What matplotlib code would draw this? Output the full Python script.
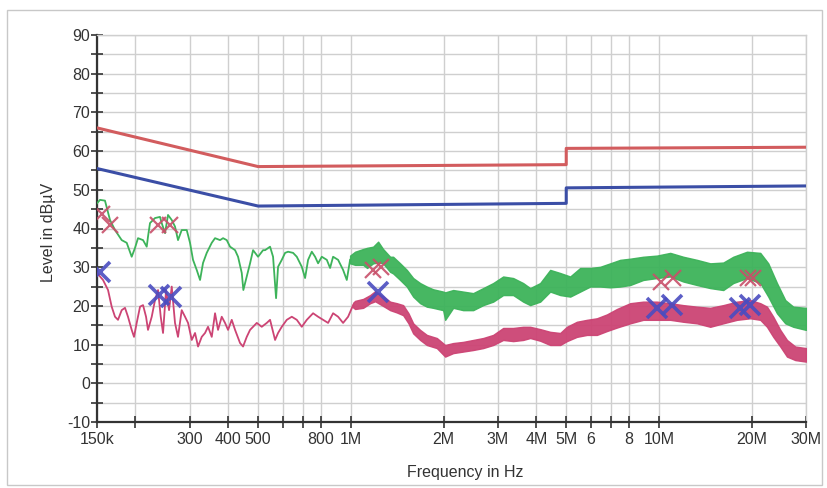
import numpy as np
import matplotlib
matplotlib.use("Agg")
import matplotlib.pyplot as plt
from matplotlib.patches import Rectangle

plt.rcParams['font.family'] = ['Liberation Sans', 'DejaVu Sans']
plt.rcParams['axes.unicode_minus'] = False

# ---- limit lines (kHz, dBuV)
qp_limit_f = [150, 500, 5000, 5000, 30000]
qp_limit_db = [66, 56, 56.5, 60.7, 61]
av_limit_f = [150, 500, 5000, 5000, 30000]
av_limit_db = [55.5, 45.8, 46.5, 50.5, 51]

# ---- peak trace (green), low-frequency part (kHz, dBuV)
pk_f = [150, 153.4, 159.2, 165.3, 171.6, 180.4, 187.3, 194.4, 199.3, 203.8, 211.6, 217.5,
        219.6, 222.9, 231.4, 240.2, 243.3, 249.4, 255, 262.2, 268.7, 274.8, 282.5, 293.3,
        300.6, 307.4, 316, 324, 331.3, 340.6, 353.6, 362.4, 376.2, 384.8, 395.5, 405.4,
        420.9, 430.4, 442.5, 447.8, 459.3, 470.8, 481.5, 499.8, 518.9, 526.7, 546.7, 559.1,
        571.8, 580.4, 596.7, 611.7, 625.5, 649.4, 667.6, 693, 710.3, 726.4, 746.8, 765.4,
        782.8, 804.7, 835.4, 856.2, 875.6, 909, 943.6, 970, 994.3]
pk_db = [46.5, 47.4, 47.2, 42.2, 39.6, 37, 36.3, 32.7, 35, 37.5, 37, 35.3,
         37.9, 41.4, 42.7, 43, 41.4, 38.8, 43.5, 42.2, 40.5, 37, 39.6, 39.6,
         36.3, 31.9, 29.3, 26.7, 31.1, 33.7, 36.3, 37.5, 37, 37.5, 37, 35.3,
         34.4, 32.7, 28.5, 24.1, 27.6, 31, 34.4, 32.7, 34.4, 34.4, 35.3, 32.7,
         22, 30.1, 31.9, 33.7, 34, 33.7, 32.7, 30.1, 27.2, 31.9, 34, 32.7,
         31, 32.7, 31.9, 29.8, 32.7, 31.9, 29.3, 26.7, 31.9]

# ---- peak trace (green), dense part: envelope (kHz, dBuV)
pk_band_f = [994.3, 1032, 1096, 1129, 1181, 1226, 1272, 1341, 1371, 1445, 1519, 1593, 1678,
             1764, 1849, 1993, 2023, 2148, 2314, 2494, 2688, 2896, 3121, 3363, 3624, 3819,
             4115, 4435, 4779, 5150, 5550, 5980, 6444, 6945, 7484, 8066, 8889, 9848, 10878,
             11990, 13280, 14666, 16164, 17420, 19298, 21314, 22628, 24147, 25694, 27279, 30000]
pk_band_hi = [33.0, 34.0, 34.7, 35, 35.3, 36.6, 34.7, 32.7, 32.7, 31, 29.3, 27.2, 25.9,
              25, 24.3, 23.7, 23.5, 24.1, 23.7, 23.3, 24.6, 25.9, 27.6, 27.2, 25.9, 24.6,
              25.9, 29.3, 28.5, 27.6, 29.8, 29.8, 30.1, 31, 31.9, 32.2, 32.7, 33, 33.7,
              32.7, 31.9, 31, 31.2, 32.7, 34, 33.7, 31, 25.9, 21.5, 19.8, 19.5]
pk_band_lo = [31.0, 30.6, 30.6, 29.8, 31, 31.2, 31, 28.8, 28.4, 26.7, 25, 22.4, 20.7,
              19.8, 19.5, 18.9, 16.4, 19.5, 18.9, 18.9, 20.2, 21.1, 22.8, 22.8, 21.1, 20.2,
              21.1, 23.7, 22.8, 22.4, 23.7, 25, 25, 24.8, 25, 25.4, 26.7, 27.2, 27.6,
              26.3, 25.4, 24.6, 24.1, 25.9, 27.2, 25.9, 22.4, 18.1, 15.5, 14.6, 13.8]

# ---- average trace (crimson), low-frequency part (kHz, dBuV)
av_f = [150, 156.9, 162.9, 167.4, 171.6, 175.5, 180.4, 184.9, 189.1, 194.4, 197.8, 201.8,
        206.9, 211.6, 216.4, 219.6, 225.8, 231.4, 236.7, 241.5, 245.7, 251.3, 257, 262.2,
        268.7, 274.8, 282.5, 289.6, 296.2, 304.5, 312.1, 319.2, 328.1, 336.3, 343.9, 353.6,
        362.4, 370.6, 381, 390.5, 399.4, 410.6, 420.9, 436.9, 446.8, 459.3, 470.8, 481.5,
        495, 513.8, 533.4, 546.7, 567.6, 580.4, 596.7, 619.5, 643.1, 667.6, 693, 719.4,
        754, 782.8, 812.6, 843.5, 875.6, 909, 943.6, 979.6, 1017]
av_db = [28.5, 26.7, 24.1, 19.8, 17.2, 16.4, 18.9, 19.5, 17.2, 13.8, 12, 15.6,
         19.8, 20.2, 17.2, 13.8, 17.2, 21.5, 24.1, 17.2, 13, 24.1, 18.9, 25,
         15.6, 12, 18.9, 17.2, 15.6, 11.2, 13, 9.5, 12, 13, 14.6, 12,
         18.1, 13.8, 17.2, 15.6, 13.8, 16.4, 13.8, 10.4, 9.5, 12, 13.8, 14.6,
         15.6, 14.6, 15.6, 16.4, 11.2, 13, 14.6, 16.4, 17.2, 16.4, 14.6, 16.4,
         18.1, 17.2, 16.4, 15.6, 18.1, 17.2, 15.6, 17.2, 20.2]

# ---- average trace (crimson), dense part: envelope (kHz, dBuV)
av_band_f = [1017, 1032, 1096, 1155, 1199, 1272, 1341, 1410, 1478, 1538, 1593, 1678, 1764,
             1901, 2023, 2148, 2314, 2494, 2688, 2896, 3121, 3363, 3624, 3819, 4115, 4435,
             4779, 5025, 5414, 5836, 6287, 6776, 7301, 8066, 8889, 9848, 10878, 11990, 13280,
             14666, 16164, 17907, 19782, 21314, 22409, 23489, 24753, 26025, 27690, 30000]
av_band_hi = [20.8, 21.3, 21.8, 22.8, 23.8, 22.5, 21.1, 20.7, 20.2, 18.1, 15.5, 13.8, 12.5,
              11.7, 9.9, 10.4, 10.7, 11.2, 11.7, 12.5, 14.3, 14.3, 14.6, 14.6, 14, 13.3,
              13, 14.6, 15.9, 16.4, 16.8, 17.8, 19.2, 20.7, 21.1, 21.1, 20.7, 20.2, 19.8,
              19.5, 20.2, 21.1, 21.5, 20.7, 19.8, 17.2, 13.8, 11.2, 9.5, 9.1]
av_band_lo = [19.6, 19.2, 19.5, 20.7, 21.2, 20, 18.9, 18.3, 17.6, 15.5, 12.9, 11.2, 9.9,
              9.1, 6.9, 7.8, 8.2, 8.6, 9.1, 9.9, 11.2, 10.9, 11.2, 11.7, 11, 9.9,
              9.9, 10.9, 12, 12.5, 12.5, 13.5, 14.4, 15.5, 16.4, 16.4, 16.4, 15.9, 15.5,
              14.6, 15.5, 16.4, 16.8, 16.4, 14.6, 12, 9.5, 6.9, 6, 5.6]

# ---- final measurement markers (kHz, dBuV)
qp_mark_f = [155.7, 165.3, 236.7, 258.9, 1181, 1254, 10169, 11124, 19490, 20230]
qp_mark_db = [43.8, 40.8, 40.8, 41, 29.3, 30, 26.3, 27.1, 27.1, 27.3]
av_mark_f = [153, 238.5, 260.8, 1226, 9870, 11017, 18360, 19780]
av_mark_db = [28.8, 22.8, 22.4, 23.5, 19.4, 20.2, 19.4, 20.2]

# ---- axis ticks
xtick_khz = [150, 200, 300, 400, 500, 600, 700, 800, 1000, 2000, 3000, 4000, 5000,
             6000, 7000, 8000, 10000, 20000, 30000]
xtick_labels = ["150k", "", "300", "400", "500", "", "", "800", "1M", "2M", "3M", "4M",
                "5M", "6", "", "8", "10M", "20M", "30M"]
ytick_major = [-10, 0, 10, 20, 30, 40, 50, 60, 70, 80, 90]

k = 1e3
fig = plt.figure(figsize=(8.27, 4.88), dpi=100)
ax = fig.add_axes([97 / 827, 1 - 422 / 488, (806 - 97) / 827, (422 - 35) / 488])

red_lim = '#d25c5e'
blue_lim = '#3b4ea6'
green = '#3db35a'
crimson = '#cc4474'

ax.plot(np.array(qp_limit_f) * k, qp_limit_db, color=red_lim, lw=2.2, zorder=3)
ax.plot(np.array(av_limit_f) * k, av_limit_db, color=blue_lim, lw=2.2, zorder=3)

ax.plot(np.array(pk_f) * k, pk_db, color=green, lw=1.3, zorder=4)
ax.fill_between(np.array(pk_band_f) * k, pk_band_lo, pk_band_hi, facecolor=green,
                alpha=0.95, lw=1.0, edgecolor=green, zorder=4)
ax.plot(np.array(av_f) * k, av_db, color=crimson, lw=1.3, zorder=5)
ax.fill_between(np.array(av_band_f) * k, av_band_lo, av_band_hi, facecolor=crimson,
                alpha=0.95, lw=1.0, edgecolor=crimson, zorder=5)

ax.plot(np.array(qp_mark_f) * k, qp_mark_db, ls='none', marker='x', ms=12, mew=1.6,
        color='#c8506a', alpha=0.9, zorder=6)
ax.plot(np.array(av_mark_f) * k, av_mark_db, ls='none', marker='x', ms=14, mew=2.6,
        color='#4a4cc0', alpha=0.9, zorder=7)

ax.set_xscale('log')
ax.set_xlim(150 * k, 30000 * k)
ax.set_ylim(-10, 90)
ax.set_xticks(np.array(xtick_khz) * k)
ax.set_xticklabels(xtick_labels)
ax.xaxis.set_minor_locator(matplotlib.ticker.NullLocator())
ax.set_yticks(ytick_major)
ax.set_yticks(np.arange(-10, 91, 5), minor=True)

ax.grid(True, which='major', axis='x', color='#cfcfcf', lw=1.0, zorder=0)
ax.grid(True, which='both', axis='y', color='#cfcfcf', lw=1.0, zorder=0)

for s in ['top', 'right']:
    ax.spines[s].set_color('#cfcfcf')
    ax.spines[s].set_linewidth(1.0)
for s in ['left', 'bottom']:
    ax.spines[s].set_color('#333333')
    ax.spines[s].set_linewidth(1.6)

ax.tick_params(axis='both', which='both', direction='inout', length=8, width=1.2,
               color='#333333', labelsize=11.5, labelcolor='#333333')
ax.tick_params(axis='x', pad=3)
ax.tick_params(axis='y', pad=1)

ax.set_xlabel('Frequency in Hz', fontsize=11.5, color='#333333')
ax.set_ylabel('Level in dBµV', fontsize=11.5, color='#333333')
ax.xaxis.set_label_coords(0.52, -0.11)
ax.yaxis.set_label_coords(-0.058, 0.49)

fig.patches.append(Rectangle((7 / 827, 3 / 488), 815 / 827, 475 / 488, transform=fig.transFigure,
                             fill=False, edgecolor='#c8c8c8', lw=1.0))

fig.savefig('out.png', dpi=100)
